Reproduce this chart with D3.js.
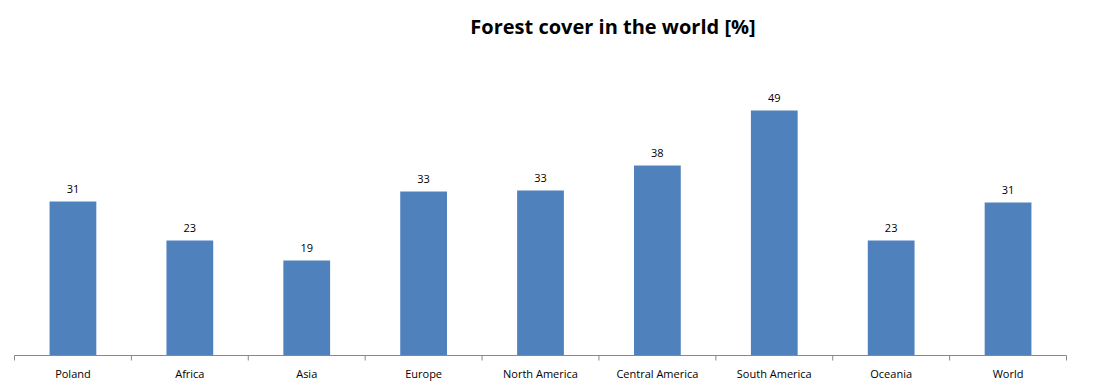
<!DOCTYPE html>
<html>
<head>
<meta charset="utf-8">
<script src="https://cdn.jsdelivr.net/npm/d3@7"></script>
<style>
  body { margin: 0; background: #fff; }
  svg { display: block; font-family: "Open Sans", "DejaVu Sans", sans-serif; }
  .title { font-size: 20px; font-weight: bold; fill: #000; }
  .label { font-size: 11px; fill: #000; }
  .x-axis text { font-size: 11px; fill: #000; }
  .x-axis path, .x-axis line { stroke: #888; }
</style>
</head>
<body>
<div id="chart"></div>
<script>
// values, labels show rounded numbers
var regions = ["Poland", "Africa", "Asia", "Europe", "North America",
               "Central America", "South America", "Oceania", "World"];
var forestCover = [30.8, 23, 19, 32.8, 33, 38, 49, 23, 30.6];
var yDomain = [0, 60];

var width = 1113, height = 390;
var margin = {top: 55.5, right: 46.5, bottom: 34.5, left: 14.5};
var w = width - margin.left - margin.right,
    h = height - margin.top - margin.bottom;

var svg = d3.select("#chart").append("svg")
    .attr("width", width)
    .attr("height", height);

svg.append("text")
    .attr("class", "title")
    .attr("x", 613)
    .attr("y", 34)
    .attr("text-anchor", "middle")
    .text("Forest cover in the world [%]");

var g = svg.append("g")
    .attr("transform", "translate(" + margin.left + "," + margin.top + ")");

var x = d3.scaleBand()
    .domain(regions)
    .range([0, w])
    .paddingInner(0.6)
    .paddingOuter(0.3);

// Excel style band: tick marks between categories
var xb = d3.scaleBand().domain(regions).range([0, w]);

var y = d3.scaleLinear()
    .domain(yDomain)
    .range([h, 0]);

var data = regions.map(function(r, i) { return {region: r, value: forestCover[i]}; });

g.selectAll("rect.bar")
    .data(data)
    .enter()
    .append("rect")
    .attr("class", "bar")
    .attr("x", function(d) { return x(d.region); })
    .attr("width", x.bandwidth())
    .attr("y", function(d) { return y(d.value); })
    .attr("height", function(d) { return h - y(d.value); })
    .attr("fill", "#4f81bd");

g.selectAll("text.label")
    .data(data)
    .enter()
    .append("text")
    .attr("class", "label")
    .attr("x", function(d) { return x(d.region) + x.bandwidth() / 2; })
    .attr("y", function(d) { return y(d.value) - 9; })
    .attr("text-anchor", "middle")
    .text(function(d) { return d3.format(".0f")(d.value); });

var xAxis = g.append("g")
    .attr("class", "x-axis")
    .attr("transform", "translate(0," + h + ")");

xAxis.append("path")
    .attr("d", "M0,0H" + w);

xAxis.selectAll("line.tick")
    .data(regions.concat([null]))
    .enter()
    .append("line")
    .attr("class", "tick")
    .attr("x1", function(d, i) { return i * xb.bandwidth(); })
    .attr("x2", function(d, i) { return i * xb.bandwidth(); })
    .attr("y1", 0)
    .attr("y2", 5);

xAxis.selectAll("text")
    .data(regions)
    .enter()
    .append("text")
    .attr("x", function(d) { return xb(d) + xb.bandwidth() / 2; })
    .attr("y", 22)
    .attr("text-anchor", "middle")
    .text(function(d) { return d; });
</script>
</body>
</html>
